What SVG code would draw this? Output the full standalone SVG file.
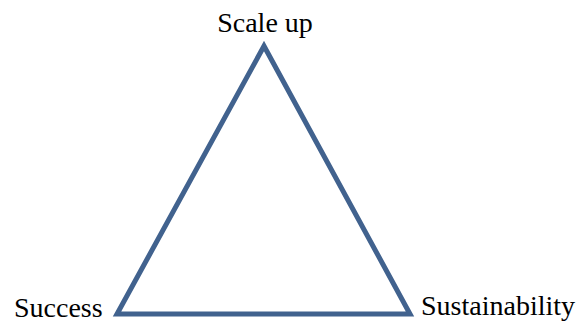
<svg xmlns="http://www.w3.org/2000/svg" width="583" height="324" viewBox="0 0 583 324">
<style>
text{font-family:'Liberation Serif','Times New Roman',serif;font-size:28px;fill:#000}
.edge{stroke:#41628e;stroke-width:5;fill:none;stroke-linejoin:miter}
</style>
<rect width="583" height="324" fill="#fff"/>
<g id="connectors">
<polygon class="edge" points="264,46 117,314 410,314"/>
</g>
<g id="scale-up"><text x="265" y="32" text-anchor="middle">Scale up</text></g>
<g id="success"><text x="14" y="317">Success</text></g>
<g id="sustainability"><text x="421" y="315">Sustainability</text></g>
</svg>
